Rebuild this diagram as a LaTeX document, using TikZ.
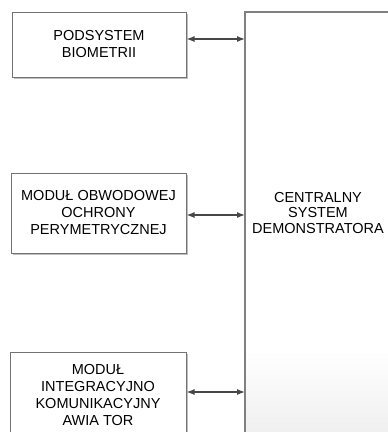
\documentclass[tikz,border=0pt]{standalone}
\usepackage{fontspec}
\setmainfont{Liberation Sans}
\usetikzlibrary{shadows,arrows.meta}

\begin{document}
\begin{tikzpicture}[x=1pt,y=-1pt,
		blok/.style={draw=black!55,line width=1pt,fill=white,align=center,
			font=\fontsize{14.5}{17}\selectfont,inner sep=0pt,
			drop shadow={shadow xshift=1.5pt,shadow yshift=-1.5pt,fill=black!25,opacity=1}},
		link/.style={{Latex[length=8pt,width=6pt]}-{Latex[length=8pt,width=6pt]},black!72,line width=1.3pt}]
				\useasboundingbox (0,0) rectangle (388,432);
				\clip (0,0) rectangle (388,432);
				
				% centralny system
				\draw[draw=black!50,line width=1.2pt,fill=white] (245,12) rectangle (400,445);
				\shade[top color=white,bottom color=black!7] (245.6,350) rectangle (400,445);
				\draw[draw=black!50,line width=1.2pt] (245,12) -- (245,445);
				\coordinate (central) at (245,12);
				\node[align=center,font=\fontsize{14.5}{15.5}\selectfont] (centraltxt) at (318,213)
					{CENTRALNY\\SYSTEM\\DEMONSTRATORA};
				
				% moduly
				\node[blok,minimum width=174pt,minimum height=65pt] (biometria) at (99,44.5)
					{PODSYSTEM\\BIOMETRII};
				\node[blok,minimum width=175pt,minimum height=80pt] (perymetria) at (98.5,213)
					{MODUŁ OBWODOWEJ\\OCHRONY\\PERYMETRYCZNEJ};
				\node[blok,minimum width=176pt,minimum height=86pt] (awiator) at (98,395)
					{MODUŁ\\INTEGRACYJNO\\KOMUNIKACYJNY\\AWIA TOR};
				
				\draw[link] ([yshift=5.5pt]biometria.east) -- ([yshift=5.5pt]biometria.east -| central);
				\draw[link] ([yshift=-2pt]perymetria.east) -- ([yshift=-2pt]perymetria.east -| central);
				\draw[link] ([yshift=3pt]awiator.east) -- ([yshift=3pt]awiator.east -| central);
			\end{tikzpicture}
\end{document}
